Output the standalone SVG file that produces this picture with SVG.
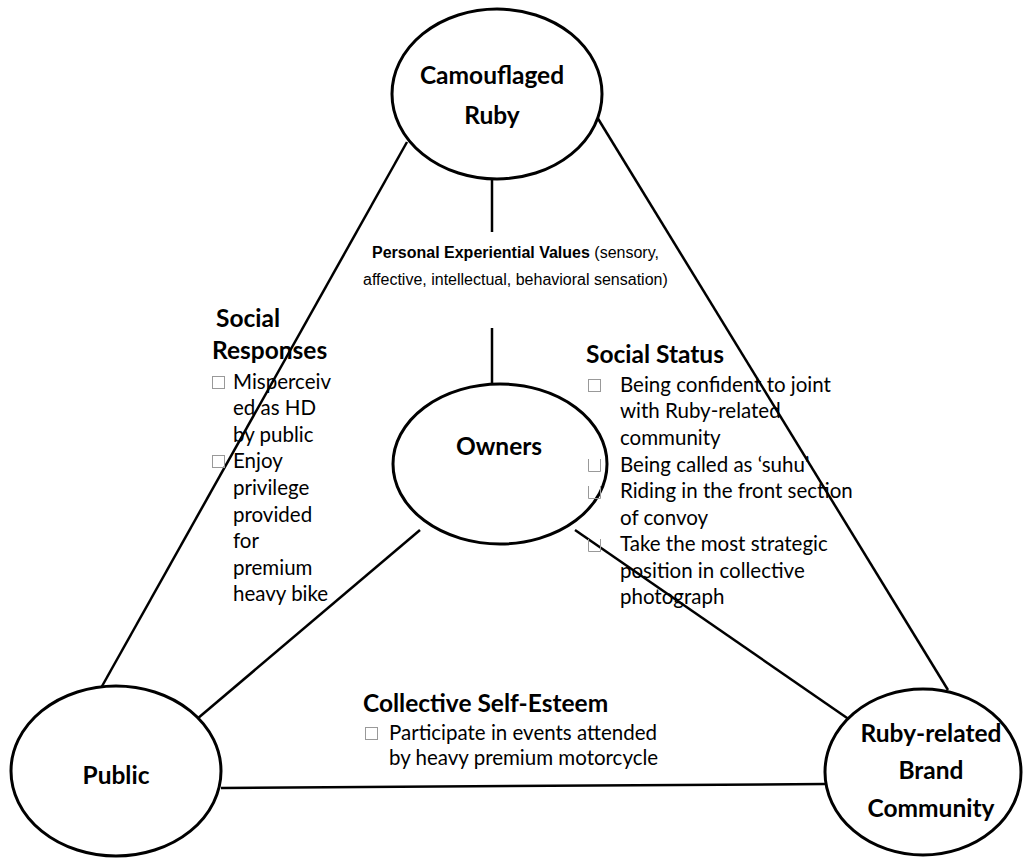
<svg xmlns="http://www.w3.org/2000/svg" width="1025" height="858" viewBox="0 0 1025 858">
<style>
.node{fill:#fff;stroke:#000;stroke-width:3}
.edge{stroke:#000;stroke-width:2.5;fill:none}
.nl{font-family:Lato,"Liberation Sans",sans-serif;font-weight:bold;font-size:24.5px;fill:#000;text-anchor:middle}
.hd{font-family:Lato,"Liberation Sans",sans-serif;font-weight:bold;font-size:24.5px;fill:#000}
.tx{font-family:Lato,"Liberation Sans",sans-serif;font-size:20.5px;fill:#000}
.ar{font-family:"Liberation Sans",Arial,sans-serif;font-size:16px;fill:#000}
.bx{fill:none;stroke:#999;stroke-width:1}
</style>
<rect width="1025" height="858" fill="#fff"/>
<g id="connectors">
<line class="edge" x1="407" y1="142" x2="101" y2="688"/>
<line class="edge" x1="597" y1="117" x2="948" y2="690"/>
<line class="edge" x1="420" y1="530" x2="197" y2="719"/>
<line class="edge" x1="575" y1="530" x2="850" y2="720"/>
<line class="edge" x1="221" y1="788" x2="825" y2="784"/>
<line class="edge" x1="492" y1="178" x2="492" y2="232"/>
<line class="edge" x1="492" y1="328" x2="492" y2="384"/>
</g>
<g id="node-camouflaged-ruby">
<ellipse class="node" cx="497" cy="94" rx="105" ry="85"/>
<text class="nl" x="492" y="84">Camouflaged</text>
<text class="nl" x="492" y="124">Ruby</text>
</g>
<g id="node-owners">
<ellipse class="node" cx="500" cy="464" rx="107" ry="80"/>
<text class="nl" x="499" y="455">Owners</text>
</g>
<g id="node-public">
<ellipse class="node" cx="116" cy="771" rx="105" ry="85"/>
<text class="nl" x="116" y="784">Public</text>
</g>
<g id="node-ruby-community">
<ellipse class="node" cx="923" cy="772" rx="98" ry="83"/>
<text class="nl" x="931" y="742">Ruby-related</text>
<text class="nl" x="931" y="779">Brand</text>
<text class="nl" x="931" y="817">Community</text>
</g>
<g id="label-personal">
<text class="ar" x="372" y="258"><tspan font-weight="bold">Personal Experiential Values</tspan> (sensory,</text>
<text class="ar" x="363" y="285">affective, intellectual, behavioral sensation)</text>
</g>
<g id="label-social-responses">
<text class="hd" x="216" y="327">Social</text>
<text class="hd" x="212" y="359">Responses</text>
<rect class="bx" x="212.5" y="376.5" width="12" height="12"/>
<rect class="bx" x="212.5" y="455.5" width="12" height="12"/>
<text class="tx" x="233" y="389">Misperceiv</text>
<text class="tx" x="233" y="415">ed as HD</text>
<text class="tx" x="233" y="442">by public</text>
<text class="tx" x="233" y="468">Enjoy</text>
<text class="tx" x="233" y="495">privilege</text>
<text class="tx" x="233" y="522">provided</text>
<text class="tx" x="233" y="548">for</text>
<text class="tx" x="233" y="575">premium</text>
<text class="tx" x="233" y="601">heavy bike</text>
</g>
<g id="label-social-status">
<text class="hd" x="586" y="363">Social Status</text>
<rect class="bx" x="588.5" y="379.5" width="12" height="12"/>
<path class="bx" d="M588.5 459 V471.5 H600.5 V459"/>
<path class="bx" d="M588.5 486 V498.5 H600.5 V486"/>
<path class="bx" d="M588.5 539 V551.5 H600.5 V539"/>
<text class="tx" x="620" y="392">Being confident to joint</text>
<text class="tx" x="620" y="418">with Ruby-related</text>
<text class="tx" x="620" y="445">community</text>
<text class="tx" x="620" y="472">Being called as ‘suhu’</text>
<text class="tx" x="620" y="498">Riding in the front section</text>
<text class="tx" x="620" y="525">of convoy</text>
<text class="tx" x="620" y="551">Take the most strategic</text>
<text class="tx" x="620" y="578">position in collective</text>
<text class="tx" x="620" y="604">photograph</text>
</g>
<g id="label-collective">
<text class="hd" x="363" y="712">Collective Self-Esteem</text>
<rect class="bx" x="365.5" y="727.5" width="12" height="12"/>
<text class="tx" x="389" y="740">Participate in events attended</text>
<text class="tx" x="389" y="765">by heavy premium motorcycle</text>
</g>
</svg>
